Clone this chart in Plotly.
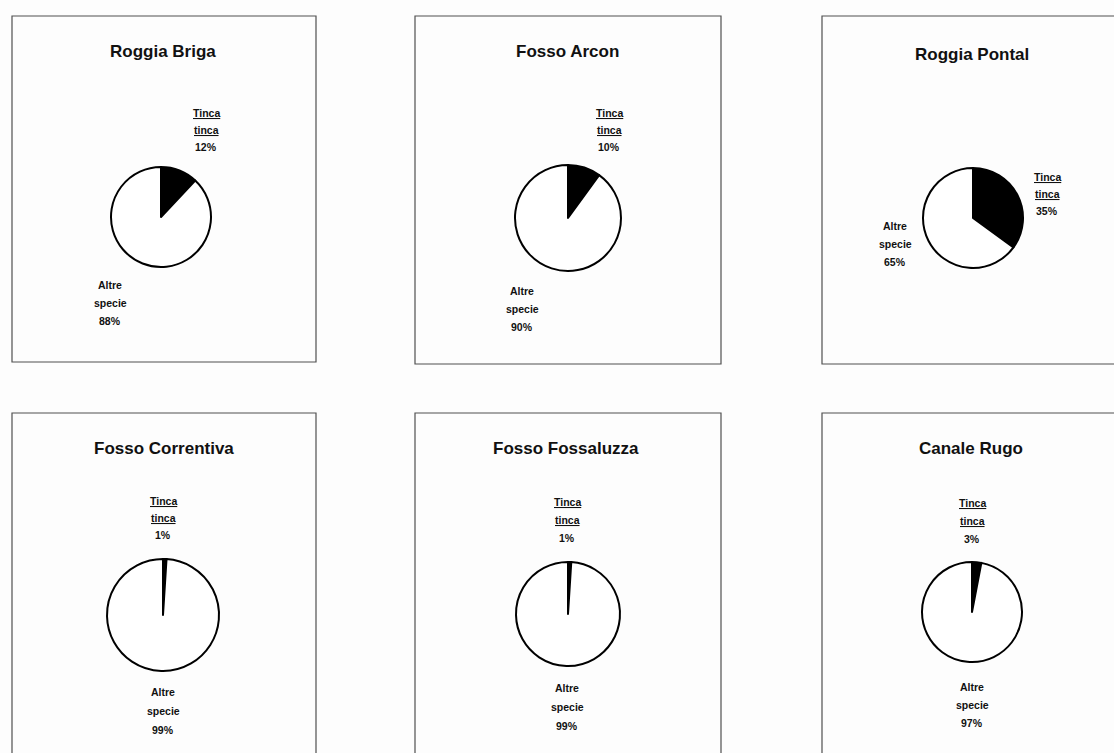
import plotly.graph_objects as go

W, H = 1114, 753

# ---- data ----
sites = ["Roggia Briga", "Fosso Arcon", "Roggia Pontal",
         "Fosso Correntiva", "Fosso Fossaluzza", "Canale Rugo"]
categories = ["Tinca tinca", "Altre specie"]
tinca_pct = [12, 10, 35, 1, 1, 3]
altre_pct = [88, 90, 65, 99, 99, 97]

# ---- layout (pixel positions in the 1114x753 page) ----
boxes = [(12, 316, 16, 362), (415, 721, 16, 364), (822, 1125, 16, 364),
         (12, 316, 413, 770), (415, 721, 413, 770), (822, 1125, 413, 770)]
pie_geo = [(161, 217, 50), (568, 218, 53), (973, 218, 50),
           (163, 615, 56), (568, 614, 52), (972, 612, 50)]
title_pos = [(163, 52), (567, 52), (972, 54), (164, 448), (566, 448), (971, 448)]
tinca_lab = [(206, 113, 17), (609, 113, 17), (1047, 177, 17),
             (163, 501, 17), (567, 502, 18), (972, 503, 18)]
altre_lab = [(110, 285, 18), (522, 291, 18), (895, 226, 18),
             (163, 692, 19), (567, 688, 19), (972, 687, 18)]


def px(x):
    return x / W


def py(y):
    return 1 - y / H


fig = go.Figure()
annotations = []
shapes = []
FONT = "Liberation Sans, Arial, sans-serif"

for i, site in enumerate(sites):
    cx, cy, r = pie_geo[i]
    fig.add_trace(go.Pie(
        labels=categories,
        values=[tinca_pct[i], altre_pct[i]],
        sort=False,
        direction="clockwise",
        rotation=0,
        textinfo="none",
        hoverinfo="label+percent",
        marker=dict(colors=["#000000", "#ffffff"],
                    line=dict(color="#000000", width=2)),
        domain=dict(x=[px(cx - r), px(cx + r)], y=[py(cy + r), py(cy - r)]),
        showlegend=False,
    ))
    x0, x1, y0, y1 = boxes[i]
    shapes.append(dict(type="rect", xref="paper", yref="paper",
                       x0=px(x0), x1=px(x1), y0=py(y1), y1=py(y0),
                       line=dict(color="#505050", width=1.2),
                       fillcolor="rgba(0,0,0,0)", layer="below"))
    tx, ty = title_pos[i]
    annotations.append(dict(x=px(tx), y=py(ty), xref="paper", yref="paper",
                            text=f"<b>{site}</b>", showarrow=False,
                            font=dict(family=FONT, size=17, color="#111"),
                            xanchor="center", yanchor="middle"))
    lx, ly, sp = tinca_lab[i]
    t1, t2 = categories[0].split(" ")
    for k, line in enumerate([f"<u>{t1}</u>", f"<u>{t2}</u>", f"{tinca_pct[i]}%"]):
        annotations.append(dict(x=px(lx), y=py(ly + k * sp), xref="paper", yref="paper",
                                text=f"<b>{line}</b>", showarrow=False,
                                font=dict(family=FONT, size=10.5, color="#111"),
                                xanchor="center", yanchor="middle"))
    lx, ly, sp = altre_lab[i]
    a1, a2 = categories[1].split(" ")
    for k, line in enumerate([a1, a2, f"{altre_pct[i]}%"]):
        annotations.append(dict(x=px(lx), y=py(ly + k * sp), xref="paper", yref="paper",
                                text=f"<b>{line}</b>", showarrow=False,
                                font=dict(family=FONT, size=10.5, color="#111"),
                                xanchor="center", yanchor="middle"))

fig.update_layout(
    width=W, height=H,
    margin=dict(l=0, r=0, t=0, b=0),
    paper_bgcolor="#fdfdfd",
    plot_bgcolor="#fdfdfd",
    annotations=annotations,
    shapes=shapes,
)

fig.write_html("out.html")
